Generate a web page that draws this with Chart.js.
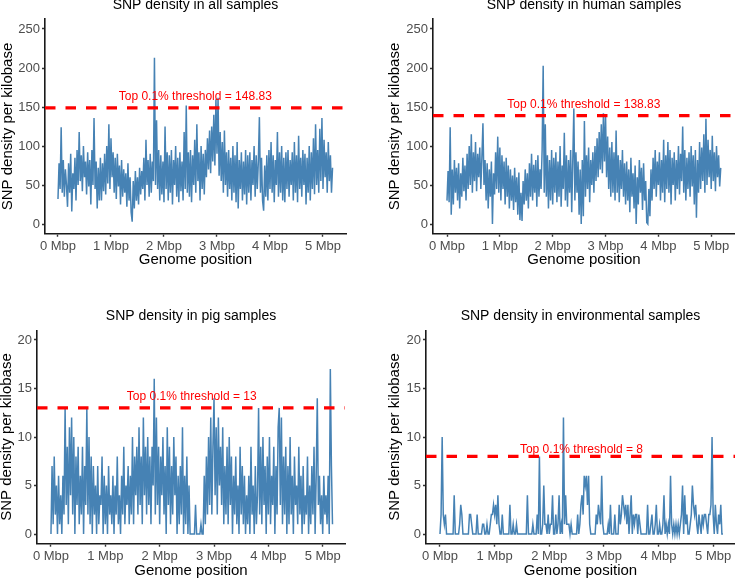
<!DOCTYPE html>
<html>
<head>
<meta charset="utf-8">
<script src="https://cdn.jsdelivr.net/npm/chart.js@4.4.1/dist/chart.umd.min.js"></script>
<style>
  html, body { margin: 0; padding: 0; background: #fff; }
  #wrap { position: relative; width: 735px; height: 579px; overflow: hidden; }
  #wrap canvas { position: absolute; }
</style>
</head>
<body>
<div id="wrap">
  <canvas id="p1" width="367" height="290" style="left:0;top:0"></canvas>
  <canvas id="p2" width="368" height="290" style="left:367px;top:0"></canvas>
  <canvas id="p3" width="367" height="289" style="left:0;top:290px"></canvas>
  <canvas id="p4" width="368" height="289" style="left:367px;top:290px"></canvas>
</div>
<script>
// =========================
// DATA (SNPs per kb, one value every 20 kb)
// =========================
const stepMbp = 0.02;

const allSamples = [
  32, 78, 45, 124, 40, 82, 35, 70, 50, 22,
  78, 40, 90, 16, 65, 45, 85, 30, 95, 50,
  118, 55, 88, 42, 100, 60, 80, 38, 92, 48,
  82, 25, 95, 50, 136, 45, 80, 20, 72, 30,
  85, 30, 78, 42, 90, 38, 100, 52, 128, 45,
  110, 60, 92, 40, 85, 32, 90, 48, 75, 25,
  82, 35, 70, 40, 65, 22, 78, 30, 60, 15,
  3, 55, 20, 68, 30, 60, 25, 72, 38, 68,
  45, 85, 30, 108, 50, 82, 35, 90, 40, 80,
  55, 213, 50, 133, 45, 95, 30, 88, 38, 80,
  28, 125, 45, 92, 30, 88, 40, 95, 25, 82,
  50, 100, 35, 85, 28, 92, 42, 80, 30, 118,
  45, 152, 40, 92, 35, 95, 28, 88, 50, 108,
  40, 128, 55, 92, 30, 100, 45, 90, 38, 95,
  60, 110, 70, 120, 65, 125, 80, 140, 75, 160,
  90, 162, 62, 118, 55, 105, 40, 120, 50, 92,
  35, 95, 45, 85, 30, 100, 40, 88, 28, 105,
  20, 82, 45, 92, 30, 80, 38, 95, 25, 88,
  40, 92, 30, 82, 50, 100, 35, 88, 45, 80,
  137, 40, 85, 30, 17, 75, 35, 88, 30, 95,
  45, 105, 40, 88, 28, 82, 50, 118, 35, 92,
  40, 100, 30, 85, 28, 92, 45, 95, 35, 82,
  50, 92, 30, 105, 40, 88, 28, 113, 45, 85,
  35, 95, 50, 90, 25, 85, 40, 100, 30, 92,
  45, 110, 38, 128, 50, 95, 40, 122, 55, 136,
  45, 108, 60, 92, 40, 105, 55, 88, 40, 72
];

const humanSamples = [
  30, 68, 28, 124, 12, 70, 25, 82, 40, 72,
  30, 78, 20, 65, 35, 85, 42, 75, 30, 90,
  45, 100, 50, 115, 40, 92, 55, 105, 42, 90,
  60, 98, 45, 85, 129, 50, 82, 30, 78, 20,
  70, 35, 80, 0, 65, 38, 92, 45, 112, 40,
  98, 30, 88, 45, 80, 25, 85, 35, 75, 20,
  70, 30, 62, 18, 72, 28, 60, 12, 66, 5,
  40, 4, 55, 25, 70, 30, 65, 20, 78, 35,
  90, 30, 76, 40, 82, 22, 88, 35, 70, 45,
  95, 203, 40, 128, 35, 88, 20, 82, 30, 95,
  25, 85, 40, 92, 28, 80, 35, 100, 22, 75,
  45, 117, 30, 88, 22, 82, 40, 95, 15, 80,
  148, 30, 92, 40, 80, 12, 70, 0, 82, 10,
  132, 35, 88, 45, 98, 28, 82, 50, 92, 40,
  100, 55, 110, 60, 118, 70, 128, 65, 142, 80,
  140, 60, 112, 45, 98, 35, 105, 40, 92, 30,
  120, 40, 88, 28, 82, 45, 95, 35, 78, 25,
  80, 30, 70, 15, 85, 35, 65, 20, 75, 0,
  60, 25, 82, 40, 72, 18, 78, 30, 55, 2,
  0, 45, 10, 70, 30, 85, 45, 95, 35, 80,
  50, 92, 30, 82, 40, 108, 28, 88, 45, 105,
  40, 95, 25, 85, 50, 92, 30, 82, 45, 100,
  38, 90, 55, 125, 40, 95, 30, 85, 45, 92,
  35, 100, 48, 88, 25, 95, 8, 82, 40, 105,
  45, 98, 55, 115, 40, 135, 50, 108, 60, 95,
  45, 113, 55, 92, 42, 100, 60, 88, 48, 72
];

const pigSamples = [
  0, 7, 1, 8, 2, 5, 0, 6, 1, 4,
  0, 6, 2, 13, 3, 9, 1, 11, 4, 12,
  2, 10, 0, 8, 3, 9, 1, 6, 2, 9,
  0, 7, 3, 13, 2, 10, 1, 8, 0, 7,
  2, 5, 0, 7, 1, 4, 3, 8, 0, 6,
  1, 5, 0, 7, 2, 4, 1, 6, 0, 5,
  2, 8, 1, 4, 0, 6, 2, 9, 1, 5,
  3, 7, 1, 6, 2, 10, 1, 8, 4, 9,
  2, 11, 3, 8, 1, 12, 4, 9, 2, 10,
  3, 8, 1, 9, 5, 16, 2, 12, 3, 9,
  1, 8, 4, 10, 2, 7, 0, 11, 3, 9,
  1, 7, 2, 10, 4, 8, 0, 6, 1, 7,
  2, 11, 0, 6, 1, 8, 0, 5, 0, 0,
  0, 0, 0, 3, 0, 0, 0, 0, 1, 0,
  0, 6, 1, 8, 2, 10, 3, 12, 2, 9,
  14, 4, 11, 2, 12, 5, 9, 3, 11, 1,
  7, 2, 9, 1, 10, 3, 8, 0, 6, 2,
  8, 1, 5, 0, 9, 2, 7, 1, 6, 0,
  4, 1, 6, 0, 9, 2, 5, 0, 7, 1,
  4, 13, 2, 9, 1, 10, 3, 7, 0, 8,
  2, 10, 1, 6, 3, 9, 0, 7, 2, 11,
  13, 3, 12, 1, 8, 2, 9, 0, 7, 1,
  10, 2, 6, 0, 8, 3, 5, 1, 9, 2,
  6, 0, 7, 1, 4, 2, 8, 0, 5, 1,
  7, 2, 9, 0, 6, 14, 3, 6, 1, 4,
  0, 6, 2, 4, 1, 6, 0, 17, 7, 1
];

const envSamples = [
  0, 2, 10, 2, 1, 2, 0, 0, 0, 0,
  0, 0, 0, 4, 0, 0, 0, 0, 1, 3,
  2, 0, 0, 0, 0, 0, 0, 2, 2, 1,
  0, 0, 0, 0, 2, 0, 0, 0, 0, 1,
  1, 0, 0, 1, 0, 0, 1, 2, 2, 3,
  2, 3, 1, 4, 1, 0, 0, 2, 0, 0,
  0, 0, 0, 0, 3, 0, 0, 1, 0, 0,
  1, 0, 0, 0, 0, 0, 0, 0, 0, 0,
  4, 0, 0, 0, 0, 1, 0, 0, 0, 2,
  0, 8, 0, 0, 1, 5, 1, 1, 0, 2,
  0, 1, 1, 4, 0, 0, 2, 0, 1, 4,
  0, 1, 0, 12, 1, 4, 1, 1, 1, 0,
  1, 0, 0, 0, 0, 0, 2, 0, 1, 3,
  4, 2, 6, 5, 6, 3, 6, 1, 0, 0,
  0, 0, 0, 2, 1, 3, 2, 1, 6, 1,
  0, 0, 0, 0, 1, 0, 3, 0, 0, 0,
  2, 0, 0, 0, 3, 1, 2, 4, 3, 2,
  3, 1, 3, 0, 2, 4, 0, 2, 1, 2,
  2, 0, 2, 1, 0, 0, 0, 0, 0, 0,
  3, 0, 0, 1, 2, 0, 0, 1, 3, 0,
  0, 1, 0, 0, 1, 4, 0, 1, 0, 1,
  0, 6, 1, 0, 1, 0, 1, 0, 1, 0,
  1, 2, 5, 0, 4, 1, 2, 0, 0, 1,
  2, 5, 3, 2, 3, 1, 0, 2, 1, 0,
  2, 1, 2, 2, 1, 0, 2, 2, 3, 10,
  2, 0, 3, 1, 0, 2, 1, 3, 0, 0
];

const thresholds = [148.83, 138.83, 13, 8];
const titles = [
  "SNP density in all samples",
  "SNP density in human samples",
  "SNP density in pig samples",
  "SNP density in environmental samples"
];
const xTicks = [0, 1, 2, 3, 4, 5];
const yTicksTop = [0, 50, 100, 150, 200, 250];
const yTicksBottom = [0, 5, 10, 15, 20];

// =========================
// LAYOUT (pixel boxes of each panel)
// =========================
const FONT = '"Liberation Sans", Arial, Helvetica, sans-serif';
Chart.defaults.font.family = FONT;

const panels = [
  { canvas: "p1", values: allSamples, thr: thresholds[0], title: titles[0], yTicks: yTicksTop,
    yMin: -12.5, yMax: 262.5, xMin: -0.245, xMax: 5.434,
    yAxisW: 45, padTop: 19.25, padRight: 21, xAxisH: 56.25,
    titleY: 5.5, labelY: 162.8, xTitlePad: 21, yTitlePad: -1.5 },
  { canvas: "p2", values: humanSamples, thr: thresholds[1], title: titles[1], yTicks: yTicksTop,
    yMin: -12.5, yMax: 262.5, xMin: -0.265, xMax: 5.45,
    yAxisW: 66, padTop: 19.25, padRight: 0, xAxisH: 56.25,
    titleY: 5.5, labelY: 152.6, xTitlePad: 21, yTitlePad: 18.5 },
  { canvas: "p3", values: pigSamples, thr: thresholds[2], title: titles[2], yTicks: yTicksBottom,
    yMin: -1, yMax: 21, xMin: -0.257, xMax: 5.41,
    yAxisW: 37, padTop: 40.3, padRight: 22, xAxisH: 35.3,
    titleY: 26, labelY: 14.2, xTitlePad: -1, yTitlePad: -2 },
  { canvas: "p4", values: envSamples, thr: thresholds[3], title: titles[3], yTicks: yTicksBottom,
    yMin: -1, yMax: 21, xMin: -0.256, xMax: 5.40,
    yAxisW: 59, padTop: 40.3, padRight: 0, xAxisH: 35.3,
    titleY: 26, labelY: 8.73, xTitlePad: -1, yTitlePad: 18.5 }
];

// =========================
// TEXT PLUGIN (panel title + threshold label)
// =========================
const panelText = {
  id: "panelText",
  afterDraw(chart, args, opts) {
    const { ctx, chartArea, scales } = chart;
    ctx.save();
    ctx.textAlign = "center";
    ctx.textBaseline = "middle";

    ctx.font = "14px " + FONT;
    ctx.fillStyle = "#000000";
    ctx.fillText(opts.title, (chartArea.left + chartArea.right) / 2, opts.titleY);

    ctx.font = "12px " + FONT;
    ctx.fillStyle = "#FF0000";
    ctx.fillText(opts.label, scales.x.getPixelForValue(opts.labelX), scales.y.getPixelForValue(opts.labelY));
    ctx.restore();
  }
};

// =========================
// CHARTS
// =========================
function drawPanel(p) {
  const points = p.values.map((v, i) => ({ x: i * stepMbp, y: v }));

  new Chart(document.getElementById(p.canvas), {
    type: "line",
    data: {
      datasets: [
        {
          data: [{ x: p.xMin, y: p.thr }, { x: p.xMax, y: p.thr }],
          borderColor: "#FF0000",
          borderWidth: 3.2,
          borderDash: [10.5, 10],
          pointRadius: 0,
          order: 0
        },
        {
          data: points,
          borderColor: "#4682B4",
          borderWidth: 1.5,
          pointRadius: 0,
          order: 1
        }
      ]
    },
    options: {
      responsive: false,
      animation: false,
      events: [],
      layout: { padding: { top: p.padTop, right: p.padRight, left: 0, bottom: 0 } },
      plugins: {
        legend: { display: false },
        tooltip: { enabled: false },
        panelText: {
          title: p.title,
          titleY: p.titleY,
          label: "Top 0.1% threshold = " + p.thr,
          labelX: 2.59,
          labelY: p.labelY
        }
      },
      scales: {
        x: {
          type: "linear",
          min: p.xMin,
          max: p.xMax,
          afterBuildTicks: s => { s.ticks = xTicks.map(v => ({ value: v })); },
          afterFit: s => { s.height = p.xAxisH; s.paddingLeft = 0; s.paddingRight = 0; },
          grid: { display: true, drawOnChartArea: false, tickLength: 3, tickWidth: 1.4, color: "#333333" },
          border: { display: true, color: "#1A1A1A", width: 1.6 },
          ticks: {
            autoSkip: false, maxRotation: 0, padding: 2, color: "#4D4D4D",
            font: { size: 13 },
            callback: v => v + " Mbp"
          },
          title: {
            display: true, text: "Genome position", color: "#000000",
            font: { size: 15 }, padding: { top: 0, bottom: p.xTitlePad }
          }
        },
        y: {
          min: p.yMin,
          max: p.yMax,
          afterBuildTicks: s => { s.ticks = p.yTicks.map(v => ({ value: v })); },
          afterFit: s => { s.width = p.yAxisW; s.paddingTop = 0; s.paddingBottom = 0; },
          grid: { display: true, drawOnChartArea: false, tickLength: 3, tickWidth: 1.4, color: "#333333" },
          border: { display: true, color: "#1A1A1A", width: 1.6 },
          ticks: { autoSkip: false, padding: 2, color: "#4D4D4D", font: { size: 13 } },
          title: {
            display: true, text: "SNP density per kilobase", color: "#000000",
            font: { size: 15 }, padding: { top: p.yTitlePad, bottom: 0 }
          }
        }
      }
    },
    plugins: [panelText]
  });
}

panels.forEach(drawPanel);
</script>
</body>
</html>
